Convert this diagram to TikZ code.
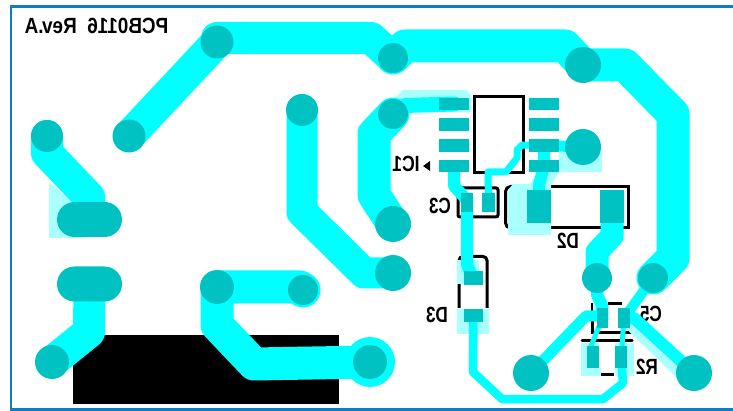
\documentclass[tikz,border=0pt]{standalone}
\usepackage{fontspec}
\setmainfont{Liberation Sans}
\usetikzlibrary{shapes.misc, shapes.geometric, backgrounds}
\definecolor{trackcyan}{RGB}{0, 255, 255}
\definecolor{padteal}{RGB}{0, 194, 194}
\definecolor{maskcyan}{RGB}{170, 255, 255}
\definecolor{frameblue}{RGB}{15, 125, 194}
\tikzset{
  viapad/.style={circle, fill=padteal, inner sep=0pt, minimum size=#1},
  longpad/.style={rounded rectangle, fill=padteal, inner sep=0pt, minimum width=65pt, minimum height=35pt},
  smdpad/.style 2 args={rectangle, fill=padteal, inner sep=0pt, minimum width=#1, minimum height=#2},
  silk/.style={line width=3pt, black},
  mask/.style={fill=maskcyan},
  track/.style={trackcyan, line width=#1, line cap=round, line join=round},
  mirrortag/.style={inner sep=0pt, font=\fontsize{22}{22}\selectfont\bfseries}
}
\newcommand{\mirrortext}[2][0.82]{\scalebox{-#1}[1]{#2}}
\begin{document}
\begin{tikzpicture}[x=1pt, y=-1pt]
  \useasboundingbox (0,0) rectangle (733,411);

  % Round pads
  \node[viapad=33pt] (padtop) at (217,42) {};
  \node[viapad=33pt] (padarm) at (129,136) {};
  \node[viapad=32pt] (padleft) at (47,136) {};
  \node[viapad=34pt] (padlow) at (52,362) {};
  \node[viapad=34pt] (padpow) at (217,287) {};
  \node[viapad=30pt] (padpowend) at (303,290) {};
  \node[viapad=34pt] (padring) at (370,362) {};
  \node[viapad=32pt] (padmid) at (302,110) {};
  \node[viapad=36pt] (padlong) at (393,273) {};
  \node[viapad=30pt] (padic) at (393,114) {};
  \node[viapad=36pt] (padicend) at (393,224) {};
  \node[viapad=30pt] (padjoin) at (393,58) {};
  \node[viapad=36pt] (padcorner) at (583,65) {};
  \node[viapad=36pt] (padsense) at (583,147) {};
  \node[viapad=30pt] (padfour) at (597,278) {};
  \node[viapad=30pt] (padfive) at (653,278) {};
  \node[viapad=36pt] (padout) at (531,373) {};
  \node[viapad=36pt] (padgnd) at (694,373) {};

  % Long pads
  \node[longpad] (jackup) at (89.5,219.5) {};
  \node[longpad] (jackdown) at (89.5,284) {};

  % IC1
  \foreach \row/\ypos in {1/104, 2/124.5, 3/145.5, 4/166} {
    \node[smdpad={30pt}{12.5pt}] (icl\row) at (454,\ypos) {};
    \node[smdpad={30pt}{12.5pt}] (icr\row) at (544,\ypos) {};
  }

  % C3
  \node[smdpad={12.5pt}{19.5pt}] (cleft) at (467,202.5) {};
  \node[smdpad={12.5pt}{19.5pt}] (cright) at (488.5,202.5) {};

  % D2
  \node[smdpad={24pt}{33pt}] (dleft) at (539,207) {};
  \node[smdpad={24pt}{33pt}] (dright) at (612,207) {};

  % D3
  \node[smdpad={19pt}{14pt}] (dtop) at (473.5,278) {};
  \node[smdpad={19pt}{13pt}] (dbot) at (473.5,315.5) {};

  % C5
  \node[smdpad={11.5pt}{20pt}] (fleft) at (602.5,318) {};
  \node[smdpad={11.5pt}{20pt}] (fright) at (624,318) {};

  % R2
  \node[smdpad={12pt}{22pt}] (rleft) at (593,357) {};
  \node[smdpad={12pt}{22pt}] (rright) at (621,357) {};

  \begin{scope}[on background layer]
    % Frame
    \draw[frameblue, line width=2.6pt] (733,6.5) -- (11,6.5) -- (11,409.5) -- (733,409.5);

    % Silk
    \fill[black] (73,335) rectangle (339,404);
    \draw[silk] (474.5,97) rectangle (523.5,173);
    \draw[silk, rounded corners=2pt] (458,188) rectangle (498,217);
    \draw[silk, rounded corners=5pt] (520,186.5) -- (505.5,186.5) -- (505.5,228) -- (520,228);
    \draw[silk] (520,186.5) -- (628,186.5) -- (628,228) -- (520,228);
    \draw[silk, rounded corners=4pt] (459,308) -- (459,256.5) -- (487,256.5) -- (487,308);
    \draw[silk] (592,303) -- (592,333) -- (632,333);
    \draw[silk] (608,304) -- (622,304);
    \draw[silk, line cap=round] (582,340.5) -- (632,340.5);
    \draw[silk] (600,374.5) -- (614,374.5);
    \fill[black] (423,166) -- (430,161) -- (430,171) -- cycle;

    % Names
    \node[mirrortag] (pcbname) at (96.5,25.5) {\mirrortext[0.86]{PCB0116\ \ Rev.A}};
    \node[mirrortag] (namea) at (406,164) {\mirrortext[0.8]{IC1}};
    \node[mirrortag] (nameb) at (440,206) {\mirrortext[0.78]{C3}};
    \node[mirrortag] (namec) at (568,241) {\mirrortext[0.78]{D2}};
    \node[mirrortag] (named) at (437,315) {\mirrortext[0.78]{D3}};
    \node[mirrortag] (namee) at (651,314) {\mirrortext[0.78]{C5}};
    \node[mirrortag] (namef) at (647,367) {\mirrortext[0.78]{R2}};

    % Mask openings
    \fill[mask] (49,182) -- (49,238) -- (86,238) -- (86,215) -- cycle;
    \fill[mask] (393,100) -- (403,90) -- (466,90) -- (471,95) -- (471,112) -- (410,112) -- cycle;
    \fill[mask] (508,190) -- (513,184) -- (530,184) -- (538,172) -- (559,172) -- (551,185) -- (551,235) -- (508,235) -- cycle;
    \fill[mask] (559,152) rectangle (602,172);
    \fill[mask] (457,260) rectangle (479,284);
    \fill[mask] (457,309) rectangle (489,334);
    \fill[mask] (581,343) rectangle (599,376);
    \fill[mask] (615,343) rectangle (634,376);
    \fill[mask] (599,368) rectangle (601,376);
    \fill[mask] (593,290) rectangle (604,312);
    \draw[maskcyan, line width=15pt] (630,322) -- (688,378);

    % Wide tracks
    \draw[track=32pt] (padarm.center) -- (padtop.center) -- (217,38) -- (371,38) -- (padjoin.center);
    \draw[track=33pt] (padjoin.center) -- (405,46) -- (565,46) -- (padcorner.center) -- (625,65) -- (673,114) -- (673,258) -- (padfive.center);
    \draw[track=32pt] (padleft.center) -- (47,153) -- (89,197) -- (jackup.center);
    \draw[track=32pt] (jackdown.center) -- (89,332) -- (padlow.center);
    \draw[track=33pt] (padpowend.center) -- (300,287) -- (padpow.center) -- (217,325) -- (254,364) -- (padring.center);
    \draw[track=31pt] (padmid.center) -- (302,212) -- (364,273) -- (padlong.center);
    \draw[track=33pt] (padic.center) -- (374,134) -- (374,195) -- (padicend.center);
    \fill[trackcyan] (padring) circle (25pt);
    \fill[trackcyan] (padpowend) circle (17.5pt);

    % Narrow tracks
    \draw[track=15pt] (padic.center) -- (405,105.5) -- (icl1.center);
    \draw[track=12pt] (icl4.center) -- (454,186) -- (467,200) -- (cleft.center);
    \draw[track=12pt] (cleft.center) -- (467,265) -- (dtop.center);
    \draw[track=7pt] (cright.center) -- (488,172) -- (506,172) -- (517,158) -- (517,150) -- (522,145) -- (icr3.center);
    \draw[track=11pt] (icr3.center) -- (padsense.center);
    \draw[track=12pt] (icr3.center) -- (icr4.center) -- (539,185) -- (dleft.center);
    \draw[track=23pt] (dright.center) -- (612,236) -- (597,252) -- (padfour.center);
    \draw[track=12pt] (padfour.center) -- (597,295) -- (602,305) -- (fleft.center);
    \draw[track=10pt] (fright.center) -- (padfive.center);
    \draw[track=11pt] (fleft.center) -- (602,316) -- (586,316) -- (padout.center);
    \draw[track=12pt] (fright.center) -- (634,318) -- (padgnd.center);
    \draw[track=5pt] (fleft.center) -- (591,346) -- (rleft.center);
    \draw[track=5pt] (fright.center) -- (622,346) -- (rright.center);
    \draw[track=8.5pt] (dbot.center) -- (473,372) -- (502,399) -- (603,399) -- (623,383) -- (rright.center);
  \end{scope}
\end{tikzpicture}
\end{document}
